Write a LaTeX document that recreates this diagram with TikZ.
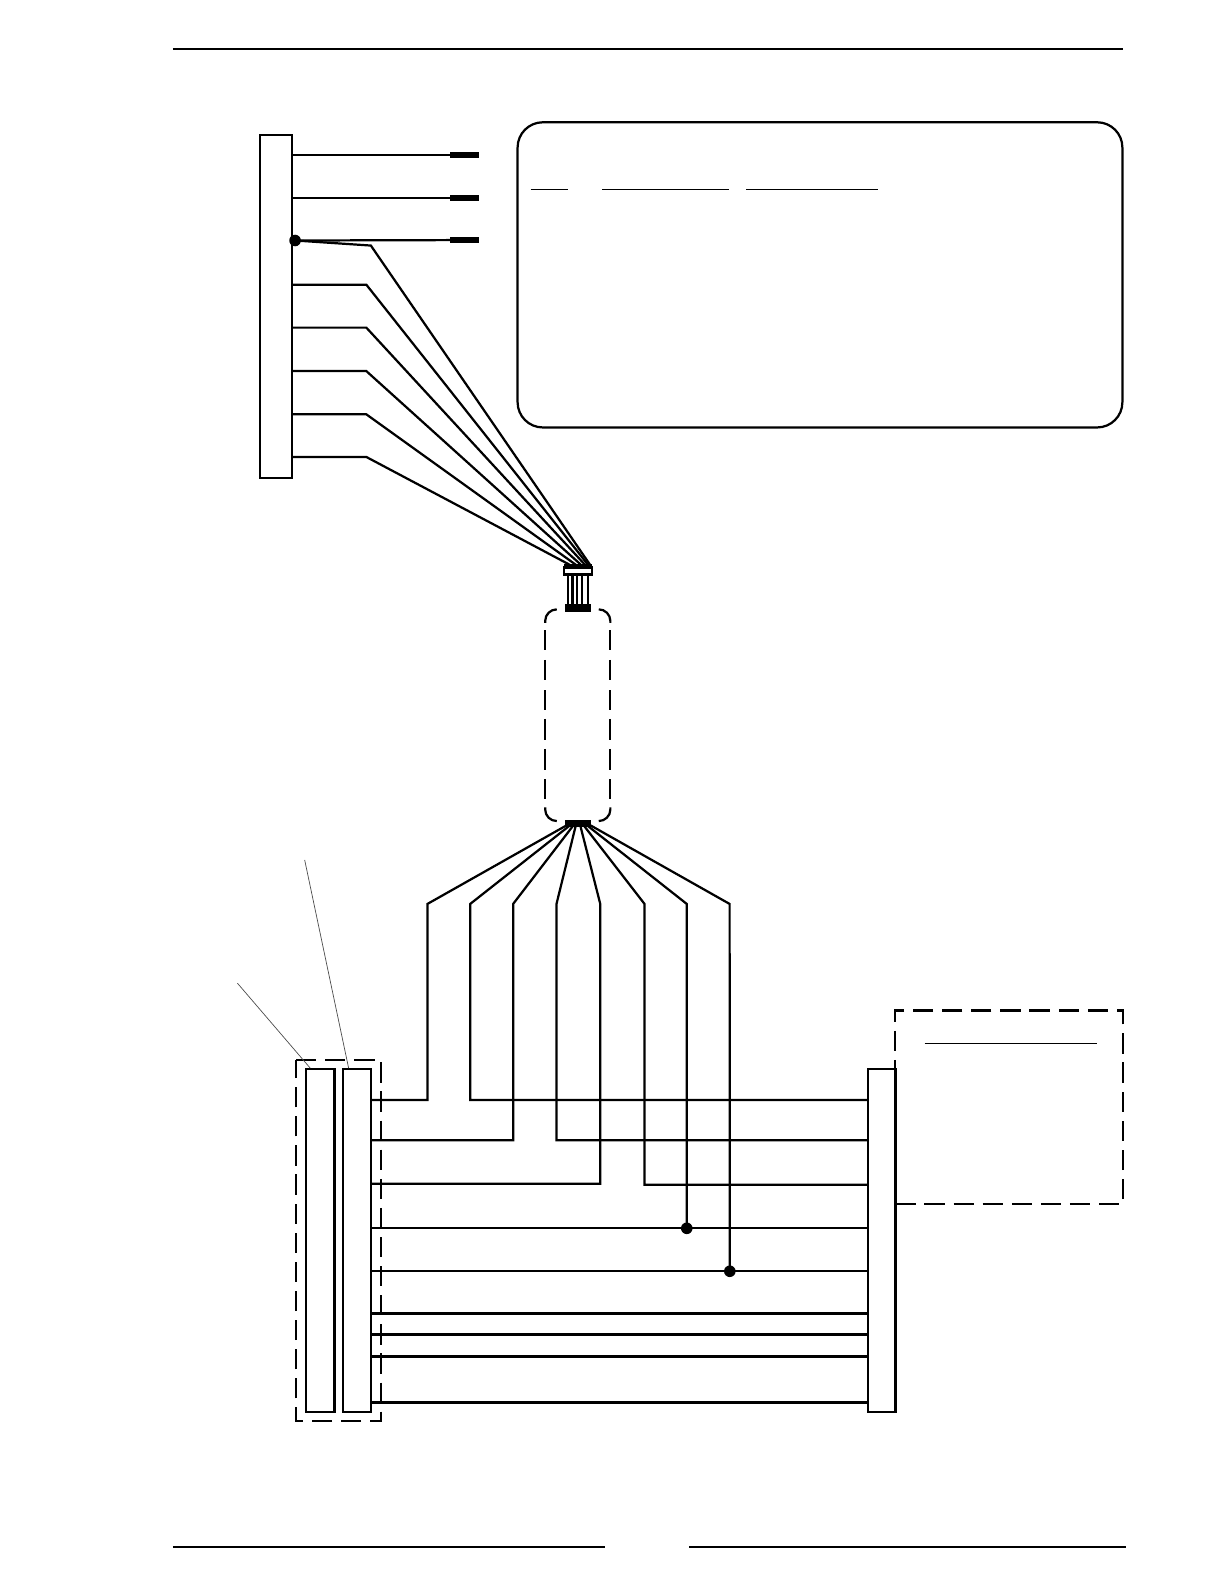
\documentclass[tikz,border=0pt]{standalone}
\begin{document}
\begin{tikzpicture}[x=1pt,y=-1pt,line join=miter,
  wire/.style={draw=black,line width=2.2pt},
  boxn/.style={draw=black,line width=2.2pt,fill=white,rectangle,inner sep=0pt,outer sep=0pt},
  tabn/.style={fill=black,rectangle,inner sep=0pt,outer sep=0pt,minimum width=28.5pt,minimum height=6.5pt},
  dashbox/.style={draw=black,line width=2.2pt,dash pattern=on 20pt off 8.8pt},
  rule/.style={draw=black,line width=2.2pt},
  thin rule/.style={draw=black,line width=1.3pt},
  leader/.style={draw=black!70,line width=0.7pt},
  dotn/.style={circle,fill=black,inner sep=0pt,outer sep=0pt,minimum size=11.5pt}]
\useasboundingbox (0,0) rectangle (1211.3,1567.5);
% page rules
\coordinate (t1) at (171,48.2); \coordinate (t2) at (1111.5,48.2);
\coordinate (b1) at (171,1530.5); \coordinate (b2) at (599,1530.5);
\coordinate (b3) at (682,1530.5); \coordinate (b4) at (1114,1530.5);
\draw[rule] (t1)--(t2);
\draw[rule] (b1)--(b2);
\draw[rule] (b3)--(b4);
% table box
\node[rectangle,draw=black,line width=2.2pt,rounded corners=25pt,minimum width=598.5pt,minimum height=302pt,anchor=north west,inner sep=0pt,outer sep=0pt] (tbl) at (512.2,121) {};
\coordinate (h1a) at (525,187.2); \coordinate (h1b) at (562,187.2);
\coordinate (h2a) at (596,187.2); \coordinate (h2b) at (721,187.2);
\coordinate (h3a) at (738.5,187.2); \coordinate (h3b) at (869,187.2);
\draw[thin rule] (h1a)--(h1b); \draw[thin rule] (h2a)--(h2b); \draw[thin rule] (h3a)--(h3b);
% top-left box
\node[boxn,minimum width=31.5pt,minimum height=339.5pt,anchor=north west] (lb) at (257.5,133.5) {};
% tabs
\node[tabn,anchor=west] (t_a) at (445.5,153.5) {};
\node[tabn,anchor=west] (t_b) at (445.5,196) {};
\node[tabn,anchor=west] (t_c) at (445.5,237.6) {};
\draw[wire] (lb.east |- t_a)--(t_a.west);
\draw[wire] (lb.east |- t_b)--(t_b.west);
\node[dotn] (d0) at (292,238) {};
\draw[wire] (d0.center)--(t_c.west);
% connector
\node[rectangle,fill=black,inner sep=0pt,minimum width=27pt,minimum height=4pt,anchor=south] (capt) at (572,562) {};
\node[boxn,minimum width=28pt,minimum height=7pt,anchor=north] (cap) at (572,561.5) {};
\node[tabn,minimum width=26pt,minimum height=7.5pt,anchor=north] (foot) at (572,598) {};
\foreach \x in {561.8,566.5,571.3,576.2,581.6}{
  \draw[wire] (\x,569)--(\x,598.5);
}
% fan to the top box
\coordinate (k1) at (367,243); \coordinate (k2) at (362.5,281.7); \coordinate (k3) at (362.5,324.2);
\coordinate (k4) at (362.5,367.2); \coordinate (k5) at (362.5,410); \coordinate (k6) at (362.5,452.2);
\coordinate (f1) at (584,559); \coordinate (f2) at (582,559); \coordinate (f3) at (579,559);
\coordinate (f4) at (575,559); \coordinate (f5) at (570,559); \coordinate (f6) at (564,559);
\draw[wire] (d0.center)--(k1)--(f1);
\draw[wire] (lb.east |- k2)--(k2)--(f2);
\draw[wire] (lb.east |- k3)--(k3)--(f3);
\draw[wire] (lb.east |- k4)--(k4)--(f4);
\draw[wire] (lb.east |- k5)--(k5)--(f5);
\draw[wire] (lb.east |- k6)--(k6)--(f6);
% dashed rounded box
\coordinate (rTL) at (551,603); \coordinate (rTR) at (592.5,603);
\draw[wire] (rTL) arc[start angle=90,end angle=180,radius=11.5pt]--++(0,2);
\draw[wire] (rTR) arc[start angle=90,end angle=0,radius=11.5pt]--++(0,2);
\coordinate (rBL) at (551,812.5); \coordinate (rBR) at (592.5,812.5);
\draw[wire] (rBL) arc[start angle=270,end angle=180,radius=11.5pt]--++(0,-2);
\draw[wire] (rBR) arc[start angle=270,end angle=360,radius=11.5pt]--++(0,-2);
\foreach \x in {539.5,604}{
  \foreach \y/\z in {623.5/643,653/673,683/702.5,711.5/732,741/762,771/791}{
    \draw[wire] (\x,\y)--(\x,\z);
  }
}
\node[tabn,minimum width=26pt,minimum height=7pt] (foot2) at (572,814.5) {};
% lower boxes
\node[boxn,minimum width=28pt,minimum height=340pt,anchor=north west] (b_a) at (303,1057.5) {};
\node[boxn,minimum width=28pt,minimum height=340pt,anchor=north west] (b_b) at (339.5,1057.5) {};
\node[boxn,minimum width=27pt,minimum height=340pt,anchor=north west] (b_c) at (859.2,1057.5) {};
% left dashed group
\coordinate (g1) at (293,1049.2); \coordinate (g2) at (377.3,1049.2);
\coordinate (g3) at (377.3,1405.8); \coordinate (g4) at (293,1405.8);
\draw[dashbox] (g1)--(g2)--(g3)--(g4)--cycle;
% right dashed group
\coordinate (r1) at (886,1191.7); \coordinate (r2) at (1111.3,1191.7);
\coordinate (r3) at (1111.3,1000); \coordinate (r4) at (886,1000);
\draw[dashbox] (r1)--(r2)--(r3)--(r4)--(r1);
\coordinate (r5) at (915,1032.5); \coordinate (r6) at (1086,1032.5);
\draw[thin rule] (r5)--(r6);
% leaders
\coordinate (l1) at (235,973); \coordinate (l1e) at (307,1057);
\coordinate (l2) at (301.5,851); \coordinate (l2e) at (345,1057);
\draw[leader] (l1)--(l1e); \draw[leader] (l2)--(l2e);
% fan from foot2
\coordinate (u1) at (423,894.5); \coordinate (u2) at (465.3,894.5); \coordinate (u3) at (507.8,894.5);
\coordinate (u4) at (550.7,894.5); \coordinate (u5) at (594,894.5); \coordinate (u6) at (637.8,894.5);
\coordinate (u7) at (679.6,894.5); \coordinate (u8) at (722,894.5);
\draw[wire] (b_b.east |- 0,1088.5)--(u1 |- 0,1088.5)--(u1)--(562,816);
\draw[wire] (b_c.west |- 0,1088.5)--(u2 |- 0,1088.5)--(u2)--(565,816);
\draw[wire] (b_b.east |- 0,1128.3)--(u3 |- 0,1128.3)--(u3)--(568,816);
\draw[wire] (b_c.west |- 0,1128.3)--(u4 |- 0,1128.3)--(u4)--(570,816);
\draw[wire] (b_b.east |- 0,1171.5)--(u5 |- 0,1171.5)--(u5)--(574,816);
\draw[wire] (b_c.west |- 0,1172.5)--(u6 |- 0,1172.5)--(u6)--(577,816);
\node[dotn] (d1) at (679.6,1215.5) {};
\node[dotn] (d2) at (722.2,1258) {};
\draw[wire] (d1.center)--(u7)--(580,816);
\draw[wire] (d2.center)--(u8)--(583,816);
\draw[wire] (b_b.east |- d1)--(b_c.west |- d1);
\draw[wire] (b_b.east |- d2)--(b_c.west |- d2);
\foreach \y in {1299.8,1320.5,1342.3,1387.8}{
  \draw[wire] (b_b.east |- 0,\y)--(b_c.west |- 0,\y);
}
\end{tikzpicture}
\end{document}
